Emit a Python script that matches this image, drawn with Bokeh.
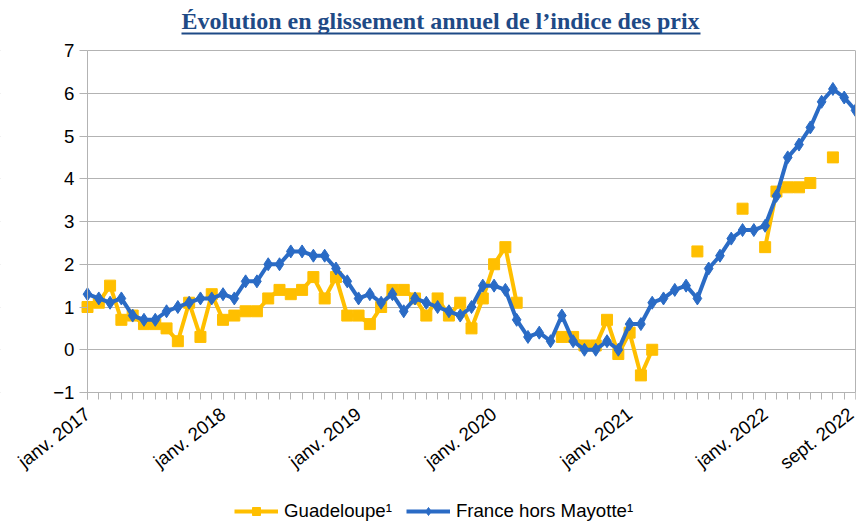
from bokeh.plotting import figure
from bokeh.models import (FixedTicker, Range1d, Legend, LegendItem, LinearAxis,
                          BoxAnnotation)
from bokeh.embed import file_html
from bokeh.resources import INLINE

nan = float("nan")

# month index 0 = janv. 2017 ... 68 = sept. 2022
months = list(range(69))

tick_positions = [0, 12, 24, 36, 48, 60, 68]
tick_labels = ["janv. 2017", "janv. 2018", "janv. 2019", "janv. 2020",
               "janv. 2021", "janv. 2022", "sept. 2022"]

y_ticks = [-1, 0, 1, 2, 3, 4, 5, 6, 7]

france = [1.3, 1.2, 1.1, 1.2, 0.8, 0.7, 0.7, 0.9, 1.0, 1.1, 1.2, 1.2,
          1.3, 1.2, 1.6, 1.6, 2.0, 2.0, 2.3, 2.3, 2.2, 2.2, 1.9, 1.6,
          1.2, 1.3, 1.1, 1.3, 0.9, 1.2, 1.1, 1.0, 0.9, 0.8, 1.0, 1.5,
          1.5, 1.4, 0.7, 0.3, 0.4, 0.2, 0.8, 0.2, 0.0, 0.0, 0.2, 0.0,
          0.6, 0.6, 1.1, 1.2, 1.4, 1.5, 1.2, 1.9, 2.2, 2.6, 2.8, 2.8,
          2.9, 3.6, 4.5, 4.8, 5.2, 5.8, 6.1, 5.9, 5.6]

guadeloupe = [1.0, 1.1, 1.5, 0.7, 0.8, 0.6, 0.6, 0.5, 0.2, 1.1, 0.3, 1.3,
              0.7, 0.8, 0.9, 0.9, 1.2, 1.4, 1.3, 1.4, 1.7, 1.2, 1.7, 0.8,
              0.8, 0.6, 1.0, 1.4, 1.4, 1.2, 0.8, 1.2, 0.8, 1.1, 0.5, 1.2,
              2.0, 2.4, 1.1, nan, nan, nan, 0.3, 0.3, 0.1, 0.1, 0.7, -0.1,
              0.4, -0.6, 0.0, nan, nan, nan, 2.3, nan, nan, nan, 3.3, nan,
              2.4, 3.7, 3.8, 3.8, 3.9, nan, 4.5, nan, nan]

YELLOW = "#ffbf00"
BLUE = "#2a6bc5"
GRID = "#b3b3b3"
TITLE_COLOR = "#1e4a86"
FONT = "Liberation Sans"

PLOT_W = 768                 # px from janv. 2017 to sept. 2022
LEFT_GAP = 87                # room left of janv. 2017 for the value labels
PX_PER_MONTH = PLOT_W / 68
PX_PER_UNIT = 42.75          # 342 px for the 8 units from -1 to 7
TOP_GAP = 17                 # white band between the title underline and the 7 line
BOTTOM_GAP = 130             # room under the -1 line for the month labels and legend

p = figure(frame_width=LEFT_GAP + PLOT_W, frame_height=342 + TOP_GAP + BOTTOM_GAP,
           min_border_left=0, min_border_right=2, min_border_top=33,
           min_border_bottom=0,
           x_range=Range1d(-LEFT_GAP / PX_PER_MONTH, 68),
           y_range=Range1d(-1 - BOTTOM_GAP / PX_PER_UNIT,
                           7 + TOP_GAP / PX_PER_UNIT),
           output_backend="svg", toolbar_location=None,
           title="Évolution en glissement annuel de l’indice des prix")
# pixel range over the frame width, used only for the title underline
p.extra_x_ranges = {"px": Range1d(0, LEFT_GAP + PLOT_W)}

p.title.align = "left"
p.title.offset = 181
p.title.text_font = "Liberation Serif"
p.title.text_font_style = "bold"
p.title.text_font_size = "18pt"
p.title.text_color = TITLE_COLOR
p.title.standoff = 0

p.outline_line_color = None
p.background_fill_color = "white"
p.border_fill_color = "white"

xa = p.below[0]
ya = p.left[0]


def blank_axis(cls=LinearAxis, **kw):
    return cls(ticker=FixedTicker(ticks=[]), major_tick_in=0,
               major_tick_out=0, minor_tick_in=0, minor_tick_out=0,
               major_label_standoff=0,
               major_tick_line_color=None, minor_tick_line_color=None,
               **kw)


# title underline: an axis line at the top edge of the frame
p.add_layout(blank_axis(x_range_name="px", bounds=(181, 700),
                        axis_line_color=TITLE_COLOR, axis_line_width=2), "above")
# right border of the plot area
p.add_layout(blank_axis(bounds=(-1, 7), axis_line_color=GRID), "right")

# month axis sits on the -1 line
xa.fixed_location = -1
xa.bounds = (0, 68)
xa.ticker = FixedTicker(ticks=tick_positions, minor_ticks=months)
xa.major_label_overrides = {t: l for t, l in zip(tick_positions, tick_labels)}
xa.major_label_orientation = 0.66
xa.major_tick_in = 0
xa.major_tick_out = 7
xa.minor_tick_in = 0
xa.minor_tick_out = 7
xa.axis_line_color = GRID
xa.major_tick_line_color = GRID
xa.minor_tick_line_color = GRID
xa.major_label_text_font = FONT
xa.major_label_text_font_size = "14pt"
xa.major_label_text_color = "#000000"
xa.major_label_standoff = 12

# value axis sits on janv. 2017
ya.fixed_location = 0
ya.ticker = FixedTicker(ticks=y_ticks)
ya.bounds = (-1, 7)
ya.major_tick_in = 0
ya.major_tick_out = 8
ya.minor_tick_line_color = None
ya.axis_line_color = GRID
ya.major_tick_line_color = GRID
ya.major_label_text_font = FONT
ya.major_label_text_font_size = "14pt"
ya.major_label_text_color = "#000000"
ya.major_label_standoff = 5

p.xgrid.grid_line_color = None
p.ygrid.grid_line_color = GRID
p.ygrid.grid_line_width = 1

# keep the horizontal grid lines inside the plot area (hide them left of janv. 2017)
p.add_layout(BoxAnnotation(right=0, fill_color="white", fill_alpha=1,
                           line_color=None, level="underlay"))

# series
gl = p.line(months, guadeloupe, line_color=YELLOW, line_width=4)
gs = p.scatter(months, guadeloupe, marker="square", size=11,
               fill_color=YELLOW, line_color=YELLOW)
fl = p.line(months, france, line_color=BLUE, line_width=4)
fs = p.scatter(months, france, marker="diamond", size=13,
               fill_color=BLUE, line_color=BLUE)

legend = Legend(items=[LegendItem(label="Guadeloupe¹", renderers=[gl, gs]),
                       LegendItem(label="France hors Mayotte¹", renderers=[fl, fs])],
                orientation="horizontal", location=(234, 0))
legend.label_text_font = FONT
legend.label_text_font_size = "14pt"
legend.label_text_color = "#000000"
legend.glyph_width = 44
legend.glyph_height = 20
legend.label_standoff = 6
legend.spacing = 14
legend.padding = 0
legend.margin = 0
legend.border_line_color = None
legend.background_fill_alpha = 0
p.add_layout(legend)

open("out.html", "w").write(file_html(p, INLINE))
